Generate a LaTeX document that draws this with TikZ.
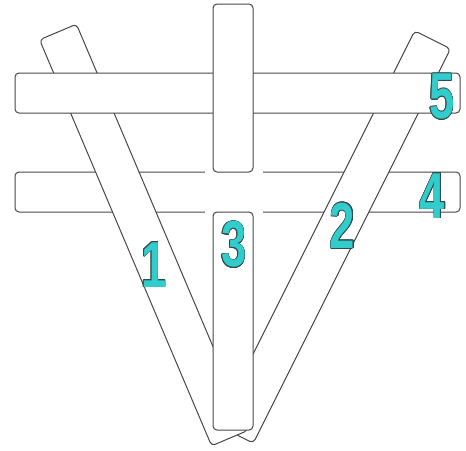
\documentclass[tikz,border=0pt]{standalone}
\usepackage{fontspec}
\setmainfont{Liberation Sans}
\usepackage[copies]{contour}
\contourlength{0.7pt}
\definecolor{PaloBorde}{HTML}{474747}
\definecolor{CifraFondo}{HTML}{33CCCC}
\definecolor{CifraBorde}{HTML}{2F4A4A}
\tikzset{
  palo/.style={draw=PaloBorde, fill=white, rounded corners=4pt, line width=1pt,
               inner sep=0pt, minimum height=40pt},
  cifra/.style={inner sep=0pt, text=CifraFondo, xscale=0.7,
                font=\bfseries\fontsize{65pt}{65pt}\selectfont},
}

\begin{document}
\begin{tikzpicture}[x=1pt, y=-1pt]
    \useasboundingbox (0,0) rectangle (466,450);
    % barra de abajo (4) con el hueco del medio
    \node[palo, minimum width=445pt] (b4) at (237.5,192) {};
    \fill[white] (205,169) rectangle (263,215);
    % palos inclinados
    \node[palo, minimum width=441pt, rotate=-116.57] (p2) at (334,237) {};
    \node[palo, minimum width=441pt, rotate=-67.04] (p1) at (144,235) {};
    % barra de arriba (5) y palo vertical
    \node[palo, minimum width=445pt] (b5) at (237.5,93) {};
    \node[palo, minimum width=40pt, minimum height=168pt] (p3a) at (233,88) {};
    \node[palo, minimum width=40pt, minimum height=218pt] (p3) at (233,321) {};
    % numeros
    \node[cifra] (n1) at (154,265) {\contour{CifraBorde}{1}};
    \node[cifra] (n2) at (342.5,226) {\contour{CifraBorde}{2}};
    \node[cifra] (n3) at (234,245) {\contour{CifraBorde}{3}};
    \node[cifra] (n4) at (432.5,196) {\contour{CifraBorde}{4}};
    \node[cifra] (n5) at (442,97) {\contour{CifraBorde}{5}};
\end{tikzpicture}
\end{document}
